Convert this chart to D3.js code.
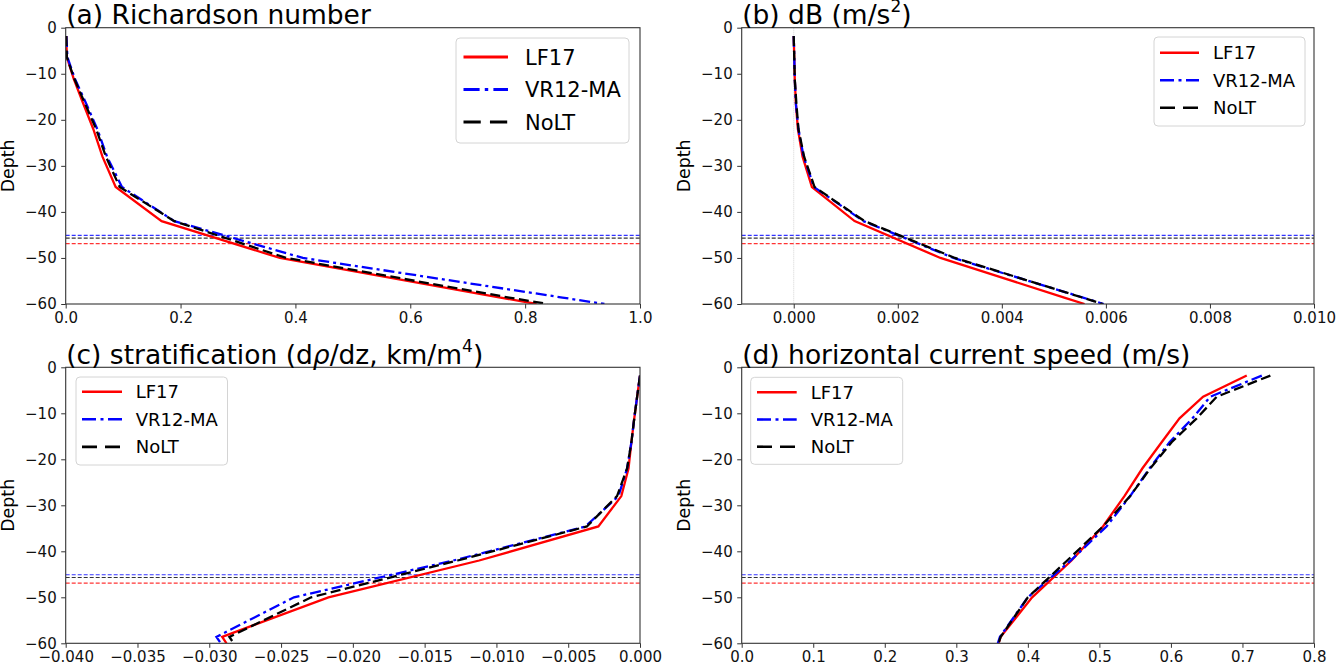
<!DOCTYPE html>
<html>
<head>
<meta charset="utf-8">
<script src="https://cdn.jsdelivr.net/npm/d3@7"></script>
<style>
  body { margin: 0; background: #fff; }
  svg { font-family: "DejaVu Sans", sans-serif; }
</style>
</head>
<body>
<svg id="chart-svg" width="1336" height="665"></svg>
<script>
const depth = [-1.8, -6.4, -11.1, -16.3, -22.0, -28.0, -34.6, -42.0, -50.0, -58.6, -60.0];

const seriesNames = ["LF17", "VR12-MA", "NoLT"];
// mixed layer depth lines, same order as seriesNames
const mixedLayer = [-46.9, -45.1, -45.7];

// (a) Richardson number
const riLF17 = [0.001, 0.002, 0.014, 0.030, 0.048, 0.064, 0.087, 0.167, 0.373, 0.757, 0.820];
const riVR12 = [0.001, 0.003, 0.016, 0.035, 0.055, 0.072, 0.098, 0.189, 0.413, 0.865, 0.938];
const riNoLT = [0.001, 0.002, 0.015, 0.033, 0.053, 0.070, 0.094, 0.189, 0.384, 0.772, 0.839];

// (b) dB
const dbLF17 = [0.0, 0.00001, 0.00002, 0.00004, 0.00008, 0.00017, 0.00035, 0.00117, 0.00282, 0.00520, 0.00559];
const dbVR12 = [0.0, 0.00001, 0.00002, 0.00004, 0.00009, 0.00019, 0.00039, 0.00134, 0.00307, 0.00556, 0.00596];
const dbNoLT = [0.0, 0.00001, 0.00002, 0.00005, 0.00009, 0.00020, 0.00040, 0.00136, 0.00310, 0.00555, 0.00594];

// (c) stratification
const stLF17 = [0.0, -0.0002, -0.0004, -0.0006, -0.0008, -0.0013, -0.0029, -0.0112, -0.0217, -0.0291, -0.0288];
const stVR12 = [0.0, -0.0002, -0.0004, -0.0006, -0.0009, -0.0015, -0.0038, -0.0130, -0.0241, -0.0295, -0.0292];
const stNoLT = [0.0, -0.0002, -0.0004, -0.0006, -0.0009, -0.0016, -0.0037, -0.0127, -0.0229, -0.0286, -0.0283];

// (d) horizontal current speed
const spLF17 = [0.706, 0.645, 0.612, 0.587, 0.560, 0.535, 0.505, 0.461, 0.406, 0.362, 0.359];
const spVR12 = [0.727, 0.655, 0.630, 0.598, 0.570, 0.543, 0.510, 0.460, 0.400, 0.361, 0.358];
const spNoLT = [0.739, 0.664, 0.636, 0.601, 0.571, 0.543, 0.505, 0.455, 0.400, 0.362, 0.359];

const depthTicks = [0, -10, -20, -30, -40, -50, -60];
const ticksA = [0, 0.2, 0.4, 0.6, 0.8, 1.0];
const ticksB = [0, 0.002, 0.004, 0.006, 0.008, 0.010];
const ticksC = [-0.040, -0.035, -0.030, -0.025, -0.020, -0.015, -0.010, -0.005, 0];
const ticksD = [0, 0.1, 0.2, 0.3, 0.4, 0.5, 0.6, 0.7, 0.8];

const colors = ["#ff0000", "#0000ff", "#000000"];
const dashes = [null, "11,4,3,4", "10,4.5"];
const legendDashes = [null, "14,4.5,3,4.5", "15,8"];

const panels = [
  { title: [{t: "(a) Richardson number"}],
    x0: 65.7, x1: 640, y0: 27.7, y1: 304, domain: [0, 1.0], ticks: ticksA, fmt: ".1f",
    data: [riLF17, riVR12, riNoLT],
    lg: { x: 456, y: 38, w: 173, h: 105, r0: 19, rs: 32.5, hx: 7.5, hl: 44.5, tx: 69, fs: 21, k: 1.15 } },
  { title: [{t: "(b) dB (m/s"}, {t: "2", sup: true}, {t: ")"}],
    x0: 741.7, x1: 1314, y0: 27.7, y1: 304, domain: [-0.001, 0.010], ticks: ticksB, fmt: ".3f",
    data: [dbLF17, dbVR12, dbNoLT], zeroLine: true,
    lg: { x: 1154, y: 37, w: 151, h: 89, r0: 15.7, rs: 27.5, hx: 6, hl: 39, tx: 59, fs: 18, k: 1 } },
  { title: [{t: "(c) stratification (d"}, {t: "ρ", it: true}, {t: "/dz, km/m"}, {t: "4", sup: true}, {t: ")"}],
    x0: 65.7, x1: 640, y0: 367.3, y1: 643.3, domain: [-0.040, 0], ticks: ticksC, fmt: ".3f",
    data: [stLF17, stVR12, stNoLT],
    lg: { x: 76, y: 377, w: 151.5, h: 88, r0: 14.7, rs: 27.6, hx: 6, hl: 40, tx: 59.7, fs: 18, k: 1 } },
  { title: [{t: "(d) horizontal current speed (m/s)"}],
    x0: 741.7, x1: 1314, y0: 367.3, y1: 643.3, domain: [0, 0.8], ticks: ticksD, fmt: ".1f",
    data: [spLF17, spVR12, spNoLT],
    lg: { x: 750.7, y: 377.3, w: 152, h: 87, r0: 15, rs: 27.2, hx: 6.3, hl: 39.7, tx: 60, fs: 18, k: 1 } }
];

const svg = d3.select("#chart-svg");

panels.forEach((p, i) => {
  const x = d3.scaleLinear().domain(p.domain).range([p.x0, p.x1]);
  const y = d3.scaleLinear().domain([0, -60]).range([p.y0, p.y1]);
  const g = svg.append("g");

  svg.append("clipPath").attr("id", "clip" + i)
     .append("rect")
     .attr("x", p.x0).attr("y", p.y0)
     .attr("width", p.x1 - p.x0).attr("height", p.y1 - p.y0);

  const plot = g.append("g").attr("clip-path", "url(#clip" + i + ")");

  if (p.zeroLine) {
    plot.append("line")
        .attr("x1", x(0)).attr("x2", x(0))
        .attr("y1", p.y0).attr("y2", p.y1)
        .attr("stroke", "#c8c8c8").attr("stroke-width", 0.8)
        .attr("stroke-dasharray", "1,1");
  }

  // mixed layer depths
  mixedLayer.forEach((d, k) => {
    plot.append("line")
        .attr("x1", p.x0).attr("x2", p.x1)
        .attr("y1", y(d)).attr("y2", y(d))
        .attr("stroke", colors[k]).attr("stroke-opacity", 0.8)
        .attr("stroke-width", 1.2)
        .attr("stroke-dasharray", "4,2");
  });

  const line = d3.line()
    .x(function(d) { return x(d[0]); })
    .y(function(d) { return y(d[1]); });

  p.data.forEach((vals, k) => {
    plot.append("path")
        .datum(vals.map((v, j) => [v, depth[j]]))
        .attr("fill", "none")
        .attr("stroke", colors[k])
        .attr("stroke-width", 2.3)
        .attr("stroke-dasharray", dashes[k])
        .attr("d", line);
  });

  // axes
  const xAxis = g.append("g")
    .attr("transform", "translate(0," + p.y1 + ")")
    .call(d3.axisBottom(x).tickValues(p.ticks).tickFormat(d3.format(p.fmt)).tickSize(4.5).tickPadding(4));
  const yAxis = g.append("g")
    .attr("transform", "translate(" + p.x0 + ",0)")
    .call(d3.axisLeft(y).tickValues(depthTicks).tickFormat(d3.format("d")).tickSize(4.5).tickPadding(4.5));
  [xAxis, yAxis].forEach(a => {
    a.select(".domain").remove();
    a.selectAll(".tick line").attr("stroke", "#333").attr("stroke-width", 1);
    a.selectAll(".tick text").attr("font-size", 15).attr("fill", "#111")
     .attr("font-family", "DejaVu Sans");
  });

  g.append("rect")
   .attr("x", p.x0).attr("y", p.y0)
   .attr("width", p.x1 - p.x0).attr("height", p.y1 - p.y0)
   .attr("fill", "none").attr("stroke", "#333").attr("stroke-width", 1.1);

  // title
  const title = g.append("text")
    .attr("x", p.x0 + 0.5).attr("y", p.y0 - 3.5)
    .attr("font-size", 26.5).attr("fill", "#000");
  p.title.forEach(s => {
    const ts = title.append("tspan").text(s.t);
    if (s.sup) ts.attr("font-size", 17).attr("baseline-shift", "70%");
    if (s.it) ts.attr("font-style", "italic");
  });

  // y label
  g.append("text")
   .attr("transform", "translate(" + (p.x0 - 52) + "," + ((p.y0 + p.y1) / 2) + ") rotate(-90)")
   .attr("text-anchor", "middle")
   .attr("font-size", 17.4).attr("fill", "#000")
   .text("Depth");

  // legend
  const L = p.lg;
  const lg = g.append("g");
  lg.append("rect")
    .attr("x", L.x).attr("y", L.y).attr("width", L.w).attr("height", L.h)
    .attr("rx", 4).attr("ry", 4)
    .attr("fill", "#fff").attr("fill-opacity", 0.85)
    .attr("stroke", "#d4d4d4").attr("stroke-width", 1);
  seriesNames.forEach((name, k) => {
    const cy = L.y + L.r0 + k * L.rs;
    const dash = legendDashes[k] ? legendDashes[k].split(",").map(v => +v * L.k).join(",") : null;
    lg.append("line")
      .attr("x1", L.x + L.hx).attr("x2", L.x + L.hx + L.hl)
      .attr("y1", cy).attr("y2", cy)
      .attr("stroke", colors[k]).attr("stroke-width", 2.6 * L.k)
      .attr("stroke-dasharray", dash);
    lg.append("text")
      .attr("x", L.x + L.tx).attr("y", cy)
      .attr("dy", "0.36em")
      .attr("font-size", L.fs).attr("fill", "#000")
      .text(name);
  });
});
</script>
</body>
</html>
